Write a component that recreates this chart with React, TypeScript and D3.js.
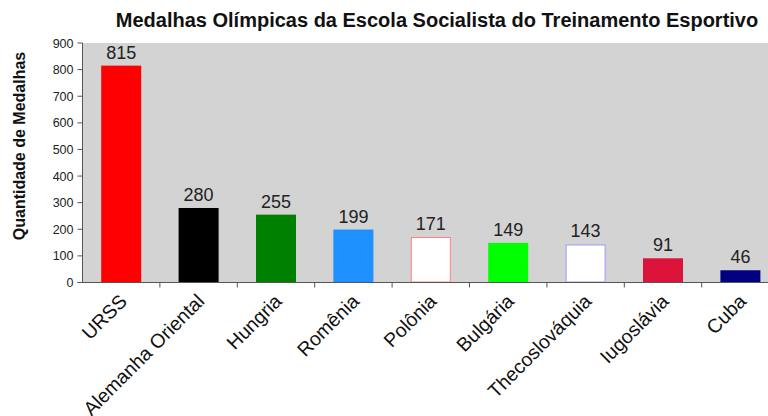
import React from "react";
import * as d3 from "d3";

const countries = ["URSS", "Alemanha Oriental", "Hungria", "Romênia", "Polônia", "Bulgária", "Thecoslováquia", "Iugoslávia", "Cuba"];
const medals = [815, 280, 255, 199, 171, 149, 143, 91, 46];
const fills = ["#FF0000", "#000000", "#008000", "#1E90FF", "#FFFFFF", "#00FF00", "#FFFFFF", "#DC143C", "#000080"];
const strokes = ["#FF0000", "#000000", "#008000", "#1E90FF", "#FF8080", "#00FF00", "#9999FF", "#DC143C", "#000080"];
const yTicks = [0, 100, 200, 300, 400, 500, 600, 700, 800, 900];

const W = 768, H = 416;
const left = 82.5, top = 43, bottom = 282.5;
const step = 77.4;

export default function App() {
  const x = d3.scaleBand<string>().domain(countries).range([left, left + step * countries.length]).paddingInner(0.483).paddingOuter(0.2415);
  const xb = d3.scaleBand<string>().domain(countries).range([left, left + step * countries.length]).padding(0);
  const y = d3.scaleLinear().domain([0, 900]).range([bottom, top]);
  const font = "'Liberation Sans', Arial, sans-serif";
  return (
    <svg width={W} height={H} style={{ position: "fixed", left: 0, top: 0, background: "#fff" }} fontFamily={font}>
      <rect x={left} y={top} width={W - left} height={bottom - top} fill="#D3D3D3" />
      <text x={437} y={27} textAnchor="middle" fontSize={20} fontWeight="bold" fill="#111">Medalhas Olímpicas da Escola Socialista do Treinamento Esportivo</text>
      <text transform={`translate(25,146) rotate(-90)`} textAnchor="middle" fontSize={16} fontWeight="bold" fill="#111">Quantidade de Medalhas</text>
      {medals.map((v, i) => {
        const c = countries[i];
        const bx = x(c)!;
        const bw = x.bandwidth();
        const white = fills[i] === "#FFFFFF";
        return (
          <g key={c}>
            <rect x={white ? bx + 0.5 : bx} y={white ? y(v) + 0.5 : y(v)} width={white ? bw - 1 : bw} height={white ? y(0) - y(v) - 1 : y(0) - y(v)} fill={fills[i]} stroke={white ? strokes[i] : "none"} strokeWidth={1} />
            <text x={bx + bw / 2} y={y(v) - 7} textAnchor="middle" fontSize={18} fill="#222">{v}</text>
          </g>
        );
      })}
      <line x1={left} x2={left} y1={top} y2={bottom} stroke="#555" />
      <line x1={left - 5} x2={W} y1={bottom} y2={bottom} stroke="#555" />
      {yTicks.map((t) => (
        <g key={t}>
          <line x1={left - 5} x2={left} y1={y(t)} y2={y(t)} stroke="#555" />
          <text x={left - 9} y={y(t) + 4.5} textAnchor="end" fontSize={12.5} fill="#222">{t}</text>
        </g>
      ))}
      {countries.map((c) => (
        <line key={"t" + c} x1={xb(c)! + xb.bandwidth()} x2={xb(c)! + xb.bandwidth()} y1={bottom} y2={bottom + 5} stroke="#555" />
      ))}
      {countries.map((c) => {
        const cx = xb(c)! + xb.bandwidth() / 2;
        return (
          <text key={"l" + c} transform={`translate(${cx + 7},${bottom + 20}) rotate(-45)`} textAnchor="end" fontSize={19.5} fill="#111">{c}</text>
        );
      })}
    </svg>
  );
}
